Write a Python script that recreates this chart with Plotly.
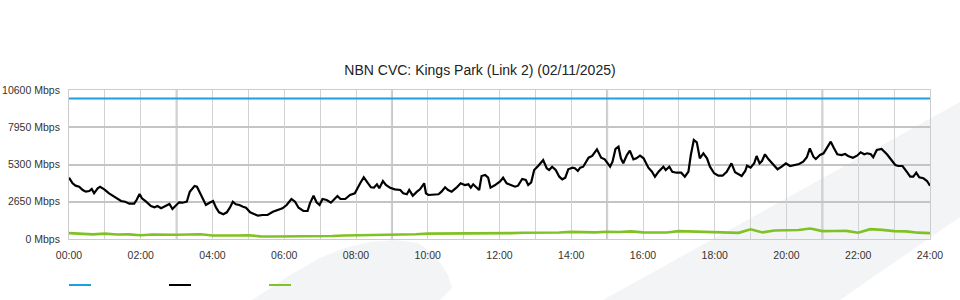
import plotly.graph_objects as go

# ---------------- data ----------------
title_text = "NBN CVC: Kings Park (Link 2) (02/11/2025)"
x_tick_hours = [0, 2, 4, 6, 8, 10, 12, 14, 16, 18, 20, 22, 24]
x_tick_labels = ["00:00", "02:00", "04:00", "06:00", "08:00", "10:00", "12:00",
                 "14:00", "16:00", "18:00", "20:00", "22:00", "24:00"]
y_tick_vals = [0, 2650, 5300, 7950, 10600]
y_tick_labels = ["0 Mbps", "2650 Mbps", "5300 Mbps", "7950 Mbps", "10600 Mbps"]

capacity_minutes = [0, 1440]
capacity_mbps = [10000, 10000]

black_minutes = [0, 6, 11, 17, 23, 28, 34, 38, 42, 48, 52, 59, 67, 79, 87, 94, 101, 109, 113, 118,
                 122, 129, 137, 143, 148, 154, 159, 168, 173, 179, 184, 190, 197, 202, 210, 214, 218,
                 224, 229, 235, 241, 246, 251, 258, 264, 269, 274, 279, 285, 291, 296, 303, 310, 316,
                 324, 332, 341, 349, 357, 364, 372, 378, 384, 392, 399, 403, 409, 414, 419, 424, 431,
                 438, 443, 449, 454, 462, 470, 478, 487, 493, 499, 505, 510, 515, 519, 525, 530, 537,
                 545, 554, 559, 565, 569, 575, 582, 587, 594, 597, 601, 609, 618, 623, 629, 634, 640,
                 648, 655, 662, 668, 672, 676, 682, 686, 690, 696, 701, 705, 712, 721, 726, 732, 739,
                 746, 751, 758, 764, 768, 773, 778, 785, 793, 799, 803, 808, 814, 820, 825, 830, 835,
                 842, 846, 851, 855, 860, 869, 875, 883, 890, 896, 905, 909, 914, 919, 923, 927, 933,
                 938, 944, 949, 955, 961, 969, 975, 980, 986, 994, 998, 1004, 1009, 1016, 1024, 1030,
                 1036, 1040, 1045, 1050, 1055, 1061, 1067, 1072, 1079, 1086, 1093, 1100, 1108, 1114,
                 1119, 1125, 1131, 1134, 1140, 1146, 1150, 1155, 1159, 1164, 1170, 1178, 1185, 1192,
                 1199, 1206, 1214, 1221, 1228, 1234, 1239, 1245, 1249, 1256, 1262, 1267, 1274, 1279,
                 1285, 1292, 1298, 1303, 1311, 1318, 1324, 1330, 1335, 1341, 1345, 1351, 1359, 1368,
                 1376, 1382, 1387, 1394, 1401, 1407, 1412, 1417, 1422, 1429, 1435, 1440]
black_mbps = [4361, 3962, 3793, 3721, 3486, 3367, 3415, 3557, 3251, 3607, 3721, 3536, 3251, 2895,
              2703, 2654, 2511, 2511, 2774, 3201, 2895, 2654, 2348, 2255, 2348, 2184, 2298, 2490,
              2134, 2419, 2611, 2582, 2654, 3367, 3770, 3721, 3367, 2774, 2419, 2582, 2703, 2227,
              1899, 1757, 1899, 2227, 2654, 2469, 2419, 2298, 2227, 1899, 1757, 1658, 1707, 1707,
              1942, 2063, 2184, 2419, 2846, 2654, 2227, 1992, 1992, 2540, 3080, 2611, 2419, 2846,
              2774, 2582, 2774, 3059, 2846, 2846, 3130, 3251, 3962, 4389, 4034, 3678, 3650, 3891,
              3607, 4126, 3842, 3650, 3536, 3486, 3251, 3180, 3486, 3080, 3367, 3536, 3962, 3251,
              3130, 3130, 3180, 3367, 3678, 3486, 3367, 3650, 3962, 3842, 3891, 3650, 3891, 3650,
              3486, 4482, 4553, 4361, 3650, 3820, 4100, 4361, 3962, 3842, 3721, 3793, 4268, 4197,
              3842, 4034, 4909, 5215, 5620, 5030, 4909, 5144, 4909, 4432, 4247, 4361, 4959, 5072,
              5030, 4838, 5072, 5144, 5784, 5905, 6381, 5784, 5670, 5144, 5499, 6403, 6566, 5741,
              5385, 5976, 6282, 5670, 5741, 5926, 5741, 5072, 4788, 4432, 4788, 5144, 4909, 5144,
              4788, 4717, 4717, 4432, 4788, 5976, 7043, 6879, 5741, 6097, 5741, 5144, 4674, 4503,
              4503, 4788, 5385, 4745, 4603, 4482, 4838, 5215, 5072, 5385, 5905, 5385, 5549, 6026,
              5670, 5264, 4959, 5144, 5385, 5193, 5264, 5336, 5499, 5812, 6452, 5855, 5691, 5976,
              6097, 6452, 6922, 6495, 6026, 5976, 6047, 5905, 5784, 5926, 6168, 6026, 6097, 6026,
              5812, 6331, 6403, 6026, 5620, 5264, 5193, 5193, 4788, 4432, 4432, 4717, 4389, 4318,
              4126, 3793]

green_minutes = [0, 20, 40, 60, 80, 100, 120, 140, 160, 180, 200, 220, 240, 260, 280, 300, 320,
                 340, 360, 380, 400, 420, 440, 460, 480, 500, 520, 540, 560, 580, 600, 620, 640,
                 660, 680, 700, 720, 740, 760, 780, 800, 820, 840, 860, 880, 900, 920, 940, 960,
                 980, 1000, 1020, 1040, 1060, 1080, 1100, 1120, 1140, 1160, 1180, 1200, 1220,
                 1240, 1260, 1280, 1300, 1320, 1340, 1360, 1380, 1400, 1420, 1440]
green_mbps = [420, 400, 330, 380, 320, 330, 270, 320, 290, 300, 320, 340, 250, 230, 250, 270, 190,
              180, 180, 180, 180, 200, 210, 250, 260, 270, 290, 300, 330, 340, 380, 380, 380, 400,
              410, 400, 400, 420, 440, 430, 450, 460, 510, 480, 470, 520, 500, 540, 470, 460, 460,
              560, 530, 540, 520, 460, 440, 690, 470, 600, 610, 640, 750, 560, 570, 580, 450, 700,
              650, 560, 540, 450, 420]

# ---------------- layout geometry (pixels) ----------------
W, H = 960, 300
L, R, T, B = 69, 30, 90, 61
PW, PH = W - L - R, H - T - B


def px(xp):
    return (xp - L) / PW


def py(yp):
    return (H - B - yp) / PH


def hours(mins):
    return [m / 60 for m in mins]


fig = go.Figure()
fig.add_trace(go.Scatter(x=hours(capacity_minutes), y=capacity_mbps, mode="lines",
                         line=dict(color="#1ba1e2", width=2), hoverinfo="skip", name="capacity"))
fig.add_trace(go.Scatter(x=hours(black_minutes), y=black_mbps, mode="lines",
                         line=dict(color="#000000", width=2.2), name="in"))
fig.add_trace(go.Scatter(x=hours(green_minutes), y=green_mbps, mode="lines",
                         line=dict(color="#80c225", width=2.6), name="out"))

shapes = []
# faint watermark shapes
wm = "#f3f4f6"
band = [(603, 300), (960, 102), (960, 217), (840, 300)]
blob = [(252, 300), (290, 275), (320, 258), (345, 248), (370, 242), (395, 240), (418, 243),
        (436, 256), (448, 275), (452, 288), (440, 300)]
for poly in (band, blob):
    path = "M " + " L ".join(f"{px(a):.5f},{py(b):.5f}" for a, b in poly) + " Z"
    shapes.append(dict(type="path", xref="paper", yref="paper", path=path,
                       fillcolor=wm, line=dict(width=0), layer="below"))
# thicker vertical grid lines
for hx in [3, 9, 15, 21]:
    shapes.append(dict(type="line", xref="x", yref="paper", x0=hx, x1=hx, y0=0, y1=1,
                       line=dict(color="#c2c2c2", width=2), layer="below"))
# legend-like swatches
for x0, col in [(69, "#1ba1e2"), (169, "#000000"), (269, "#80c225")]:
    shapes.append(dict(type="line", xref="paper", yref="paper", x0=px(x0), x1=px(x0 + 22),
                       y0=py(285), y1=py(285), line=dict(color=col, width=2)))

font_family = "Liberation Sans, Arial, sans-serif"
fig.update_layout(
    width=W, height=H,
    margin=dict(l=L, r=R, t=T, b=B, pad=0, autoexpand=False),
    paper_bgcolor="white",
    plot_bgcolor="rgba(0,0,0,0)",
    showlegend=False,
    font=dict(family=font_family, size=10.5, color="#333333"),
    title=dict(text=title_text, x=0.5, xref="container", xanchor="center",
               y=1 - 70 / H, yref="container", yanchor="middle",
               font=dict(family=font_family, size=14, color="#222222")),
    shapes=shapes,
)
fig.update_xaxes(
    range=[0, 24], tickmode="array", tickvals=x_tick_hours, ticktext=x_tick_labels,
    showgrid=True, gridcolor="#d2d2d2", gridwidth=1, zeroline=False,
    showline=True, linecolor="#cccccc", linewidth=1, mirror=True,
    ticks="", ticklabelstandoff=6, automargin=False,
    minor=dict(tickmode="array", tickvals=list(range(1, 24, 2)), showgrid=True,
               gridcolor="#d2d2d2", gridwidth=1, ticks=""),
)
fig.update_yaxes(
    range=[0, 10600], tickmode="array", tickvals=y_tick_vals, ticktext=y_tick_labels,
    showgrid=False, zeroline=False,
    showline=True, linecolor="#cccccc", linewidth=1, mirror=True,
    ticks="", ticklabelstandoff=6, automargin=False,
    minor=dict(tickmode="array", tickvals=y_tick_vals[1:-1], showgrid=True,
               gridcolor="#c4c4c4", gridwidth=2, ticks=""),
)

fig.write_html("out.html")
